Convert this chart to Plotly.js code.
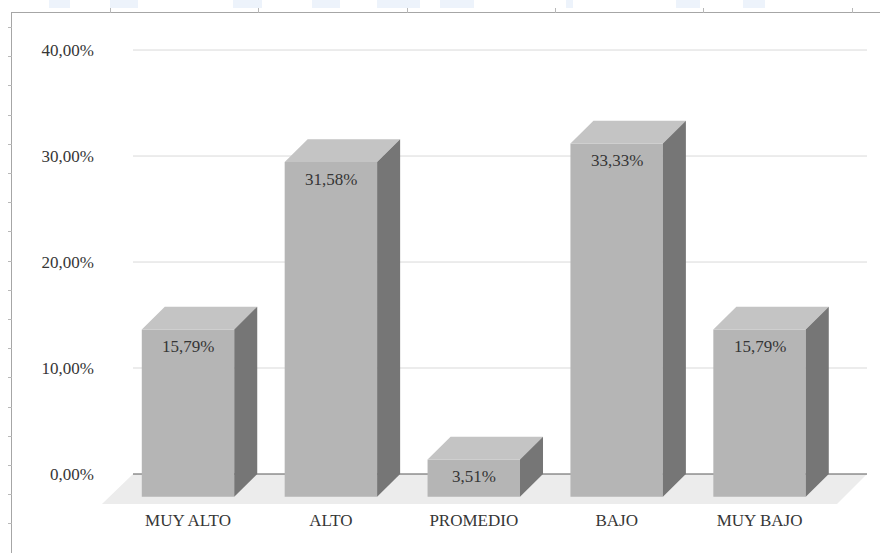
<!DOCTYPE html>
<html>
<head>
<meta charset="utf-8">
<script src="https://cdn.plot.ly/plotly-3.0.1.min.js"></script>
<style>
  html, body { margin: 0; padding: 0; background: #ffffff; }
  #wrap { position: relative; width: 880px; height: 553px; overflow: hidden; }
  #chart { position: absolute; left: 0; top: 0; width: 880px; height: 553px; }
  #frame { position: absolute; left: 11px; top: 12px; width: 880px; height: 560px;
           border-left: 1.5px solid #a6a6a6; border-top: 1.5px solid #a6a6a6; pointer-events: none; }
  .wm { position: absolute; top: 0; height: 8px; background: #edf3fb; }
  .tk { position: absolute; background: #b8b8b8; }
</style>
</head>
<body>
<div id="wrap">
  <div id="chart"></div>
  <div id="frame"></div>
</div>
<script>
// ---- data ----
const categories = ['MUY ALTO', 'ALTO', 'PROMEDIO', 'BAJO', 'MUY BAJO'];
const values = [0.1579, 0.3158, 0.0351, 0.3333, 0.1579];
const yTicks = [0, 0.1, 0.2, 0.3, 0.4];

// ---- 3D look (style constants) ----
const W = 0.647;      // front face width (category units)
const DX = 0.161;     // depth offset, x (category units)
const DY = 0.0215;    // depth offset, y (value units)
const X_RANGE = [-0.602, 4.752];
const Y_RANGE = [-0.0283, 0.4189];
const BACK_LEFT = -0.385;
const FLOOR_FRONT_RIGHT = 4.542;
const TEXT_COLOR = '#363636';
const FONT = 'Liberation Serif, Times New Roman, serif';

// page decoration (faint watermark strip and frame ticks)
const wrap = document.getElementById('wrap');
[[49, 70], [110, 138], [233, 262], [312, 340], [377, 420], [440, 474], [566, 573], [676, 700], [743, 765]]
  .forEach(([a, b]) => {
    const d = document.createElement('div');
    d.className = 'wm'; d.style.left = a + 'px'; d.style.width = (b - a) + 'px';
    wrap.appendChild(d);
  });
[110, 258, 407, 555, 703, 852].forEach(x => {
  const d = document.createElement('div');
  d.className = 'tk'; d.style.left = x + 'px'; d.style.top = '8px';
  d.style.width = '1px'; d.style.height = '5px';
  wrap.appendChild(d);
});
for (let y = 27; y < 553; y += 29.2) {
  const d = document.createElement('div');
  d.className = 'tk'; d.style.left = '8px'; d.style.top = Math.round(y) + 'px';
  d.style.width = '4px'; d.style.height = '1px';
  wrap.appendChild(d);
}

const xs = categories.map((c, i) => i);
const fmt = v => (v * 100).toFixed(2).replace('.', ',') + '%';

// front faces
const front = {
  type: 'bar', x: xs, y: values, base: values.map(() => -DY), width: W,
  marker: { color: '#b5b5b5', line: { width: 0 } },
  hoverinfo: 'skip', showlegend: false
};

// top and side faces built from values
const topX = [], topY = [], sideX = [], sideY = [];
values.forEach((v, i) => {
  const l = i - W / 2, r = i + W / 2, t = v - DY;
  topX.push(l, r, r + DX, l + DX, l, null);
  topY.push(t, t, t + DY, t + DY, t, null);
  sideX.push(r, r + DX, r + DX, r, r, null);
  sideY.push(-DY, 0, t + DY, t, -DY, null);
});
const tops = {
  type: 'scatter', mode: 'lines', x: topX, y: topY, fill: 'toself',
  fillcolor: '#c4c4c4', line: { width: 0, color: 'rgba(0,0,0,0)' },
  hoverinfo: 'skip', showlegend: false
};
const sides = {
  type: 'scatter', mode: 'lines', x: sideX, y: sideY, fill: 'toself',
  fillcolor: '#767676', line: { width: 0, color: 'rgba(0,0,0,0)' },
  hoverinfo: 'skip', showlegend: false
};

// gridlines and floor
const shapes = [];
shapes.push({
  type: 'path', xref: 'x', yref: 'y', layer: 'below',
  path: `M ${X_RANGE[0]} ${Y_RANGE[0]} L ${FLOOR_FRONT_RIGHT} ${Y_RANGE[0]} L ${X_RANGE[1]} 0 L ${BACK_LEFT} 0 Z`,
  fillcolor: '#ececec', line: { width: 0 }
});
yTicks.forEach(t => {
  shapes.push({
    type: 'line', xref: 'x', yref: 'y', layer: 'below',
    x0: BACK_LEFT, x1: X_RANGE[1], y0: t, y1: t,
    line: { color: t === 0 ? '#595959' : '#d9d9d9', width: 1 }
  });
});

const annotations = values.map((v, i) => ({
  x: i, y: v - DY, xref: 'x', yref: 'y', text: fmt(v), showarrow: false,
  yanchor: 'middle', xanchor: 'center', yshift: -17,
  font: { family: FONT, size: 17, color: TEXT_COLOR }
}));

const layout = {
  width: 880, height: 553,
  margin: { l: 102, r: 13, t: 30, b: 49 },
  paper_bgcolor: 'rgba(0,0,0,0)', plot_bgcolor: 'rgba(0,0,0,0)',
  separators: ',.',
  font: { family: FONT, size: 17, color: TEXT_COLOR },
  showlegend: false,
  xaxis: {
    range: X_RANGE, tickvals: xs, ticktext: categories,
    showgrid: false, zeroline: false, showline: false, ticks: '',
    ticklabelstandoff: 4, fixedrange: true
  },
  yaxis: {
    range: Y_RANGE, tickvals: yTicks, tickformat: '.2%',
    showgrid: false, zeroline: false, showline: false, ticks: '',
    ticklabelstandoff: 7, fixedrange: true
  },
  shapes: shapes,
  annotations: annotations
};

Plotly.newPlot('chart', [front, tops, sides], layout, { displayModeBar: false, staticPlot: true });
</script>
</body>
</html>
